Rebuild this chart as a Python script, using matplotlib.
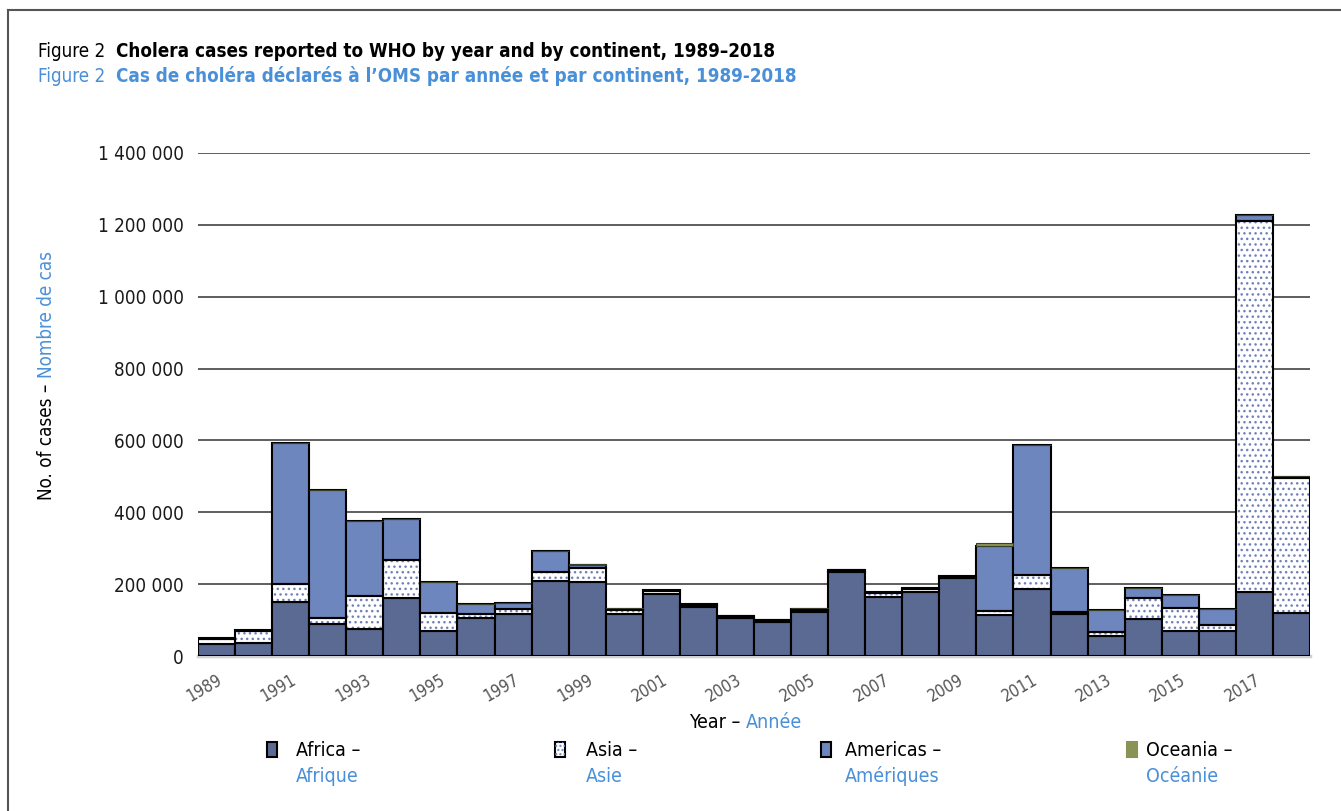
import matplotlib.pyplot as plt
from matplotlib.patches import Rectangle
from matplotlib.lines import Line2D

plt.rcParams["font.family"] = ["DejaVu Sans"]
plt.rcParams["font.stretch"] = "condensed"
plt.rcParams["hatch.linewidth"] = 1.0

years = list(range(1989, 2019))
# cases per continent (from the picture)
africa = [33000, 36000, 150000, 89000, 75000, 161000, 70000, 106000, 117000, 209000,
          206000, 117000, 173000, 136000, 106000, 95000, 122000, 234000, 164000, 179000,
          217000, 115000, 187000, 117000, 56000, 103000, 70000, 70000, 178000, 120000]
asia = [15000, 34000, 50000, 17000, 92000, 106000, 50000, 11000, 14000, 25000,
        39000, 11000, 8000, 7000, 4000, 5000, 6000, 4000, 11000, 8000,
        4000, 11000, 39000, 6000, 11000, 58000, 64000, 16000, 1033000, 375000]
americas = [1000, 1000, 393000, 356000, 209000, 114000, 86000, 28000, 16000, 58000,
            9000, 3000, 3000, 2000, 1000, 1000, 3000, 1000, 3000, 3000,
            1000, 181000, 362000, 122000, 61000, 28000, 36000, 45000, 16000, 3000]
oceania = [0, 0, 0, 0, 0, 0, 0, 0, 0, 0,
           1000, 3000, 0, 1000, 0, 0, 2000, 1000, 0, 0,
           1000, 8000, 0, 0, 0, 0, 0, 0, 0, 2000]
y_ticks = [0, 200000, 400000, 600000, 800000, 1000000, 1200000, 1400000]

AFRICA_C = "#5b6a93"
AMERICAS_C = "#6e86be"
OCEANIA_C = "#8a9356"
ASIA_DOT = "#7080b8"
BLUE_TXT = "#4a90d9"

fig = plt.figure(figsize=(13.41, 8.11), dpi=100)
ax = fig.add_axes([198 / 1341, 1 - 656 / 811, 1112 / 1341, 503 / 811])

x = list(range(len(years)))
base_asia = africa
base_am = [a + b for a, b in zip(africa, asia)]
base_oc = [a + b for a, b in zip(base_am, americas)]

edge = dict(edgecolor="black", linewidth=1.5)
ax.bar(x, africa, width=1.0, color=AFRICA_C, zorder=3, **edge)
ax.bar(x, asia, width=1.0, bottom=base_asia, color="white", edgecolor=ASIA_DOT,
       linewidth=0, hatch="...", zorder=3)
ax.bar(x, asia, width=1.0, bottom=base_asia, fill=False, zorder=4, **edge)
ax.bar(x, americas, width=1.0, bottom=base_am, color=AMERICAS_C, zorder=3, **edge)
ax.bar(x, oceania, width=1.0, bottom=base_oc, color=OCEANIA_C, edgecolor="#3a3f2a",
       linewidth=0.8, zorder=3)

ax.set_xlim(-0.5, len(years) - 0.5)
ax.set_ylim(0, 1400000)
ax.set_yticks(y_ticks)
ax.set_yticklabels([f"{v:,}".replace(",", " ") for v in y_ticks], fontsize=13.5, color="#1a1a1a")
ax.tick_params(axis="y", length=0, pad=10)
ax.grid(axis="y", color="#333333", linewidth=1.1, zorder=0)
ax.set_axisbelow(True)
for s in ["top", "right", "left"]:
    ax.spines[s].set_visible(False)
ax.spines["bottom"].set_color("#d0d0d0")
ax.spines["bottom"].set_linewidth(2.5)

ax.set_xticks(x[::2])
ax.set_xticklabels([str(y) for y in years[::2]], rotation=30, ha="right",
                   rotation_mode="anchor", fontsize=12, color="#555555")
ax.tick_params(axis="x", length=0, pad=11)

# title, two lines, two styles each
t1 = fig.text(38 / 1341, 1 - 57 / 811, "Figure 2  ", fontsize=13.5)
ax.annotate("Cholera cases reported to WHO by year and by continent, 1989\u20132018",
            xy=(1, 0), xycoords=t1, va="bottom", fontsize=13.5, fontweight="bold",
            annotation_clip=False)
t2 = fig.text(38 / 1341, 1 - 82 / 811, "Figure 2  ", fontsize=13.5, color=BLUE_TXT)
ax.annotate("Cas de chol\u00e9ra d\u00e9clar\u00e9s \u00e0 l\u2019OMS par ann\u00e9e et par continent, 1989-2018",
            xy=(1, 0), xycoords=t2, va="bottom", fontsize=13.5, fontweight="bold", color=BLUE_TXT,
            annotation_clip=False)

# y label in two colours
yl = fig.text(47 / 1341, 1 - 500 / 811, "No. of cases \u2013 ", rotation=90, fontsize=13.5,
              ha="center", va="bottom")
ax.annotate("Nombre de cas", xy=(0.5, 1), xycoords=yl, rotation=90, fontsize=13.5,
            ha="center", va="bottom", color=BLUE_TXT, annotation_clip=False)

# x label in two colours
xl = fig.text(746 / 1341, 1 - 722 / 811, "Year \u2013 ", fontsize=14, ha="right", va="center")
ax.annotate("Ann\u00e9e", xy=(1, 0.5), xycoords=xl, fontsize=14, ha="left", va="center",
            color=BLUE_TXT, annotation_clip=False)

# legend
legend_items = [
    ("Africa \u2013", "Afrique", 267, 296, AFRICA_C),
    ("Asia \u2013", "Asie", 555, 586, "white"),
    ("Americas \u2013", "Am\u00e9riques", 821, 845, AMERICAS_C),
    ("Oceania \u2013", "Oc\u00e9anie", 1127, 1146, OCEANIA_C),
]
for en, fr, px, tx, fc in legend_items:
    ec = OCEANIA_C if fc == OCEANIA_C else "black"
    fig.patches.append(Rectangle((px / 1341, 1 - 757 / 811), 10 / 1341, 15 / 811,
                                 transform=fig.transFigure, facecolor=fc, edgecolor=ec,
                                 linewidth=1.5))
    if fc == "white":
        fig.patches.append(Rectangle((px / 1341, 1 - 757 / 811), 10 / 1341, 15 / 811,
                                     transform=fig.transFigure, facecolor="none",
                                     edgecolor=ASIA_DOT, linewidth=0, hatch="...."))
    fig.text(tx / 1341, 1 - 750 / 811, en, fontsize=14, va="center")
    fig.text(tx / 1341, 1 - 776 / 811, fr, fontsize=14, va="center", color=BLUE_TXT)

# frame
fig.add_artist(Line2D([8 / 1341, 8 / 1341], [0, 1 - 10 / 811], transform=fig.transFigure,
                      color="#555555", linewidth=1.5))
fig.add_artist(Line2D([8 / 1341, 1], [1 - 10 / 811, 1 - 10 / 811], transform=fig.transFigure,
                      color="#555555", linewidth=1.5))

fig.savefig("out.png", dpi=100)
